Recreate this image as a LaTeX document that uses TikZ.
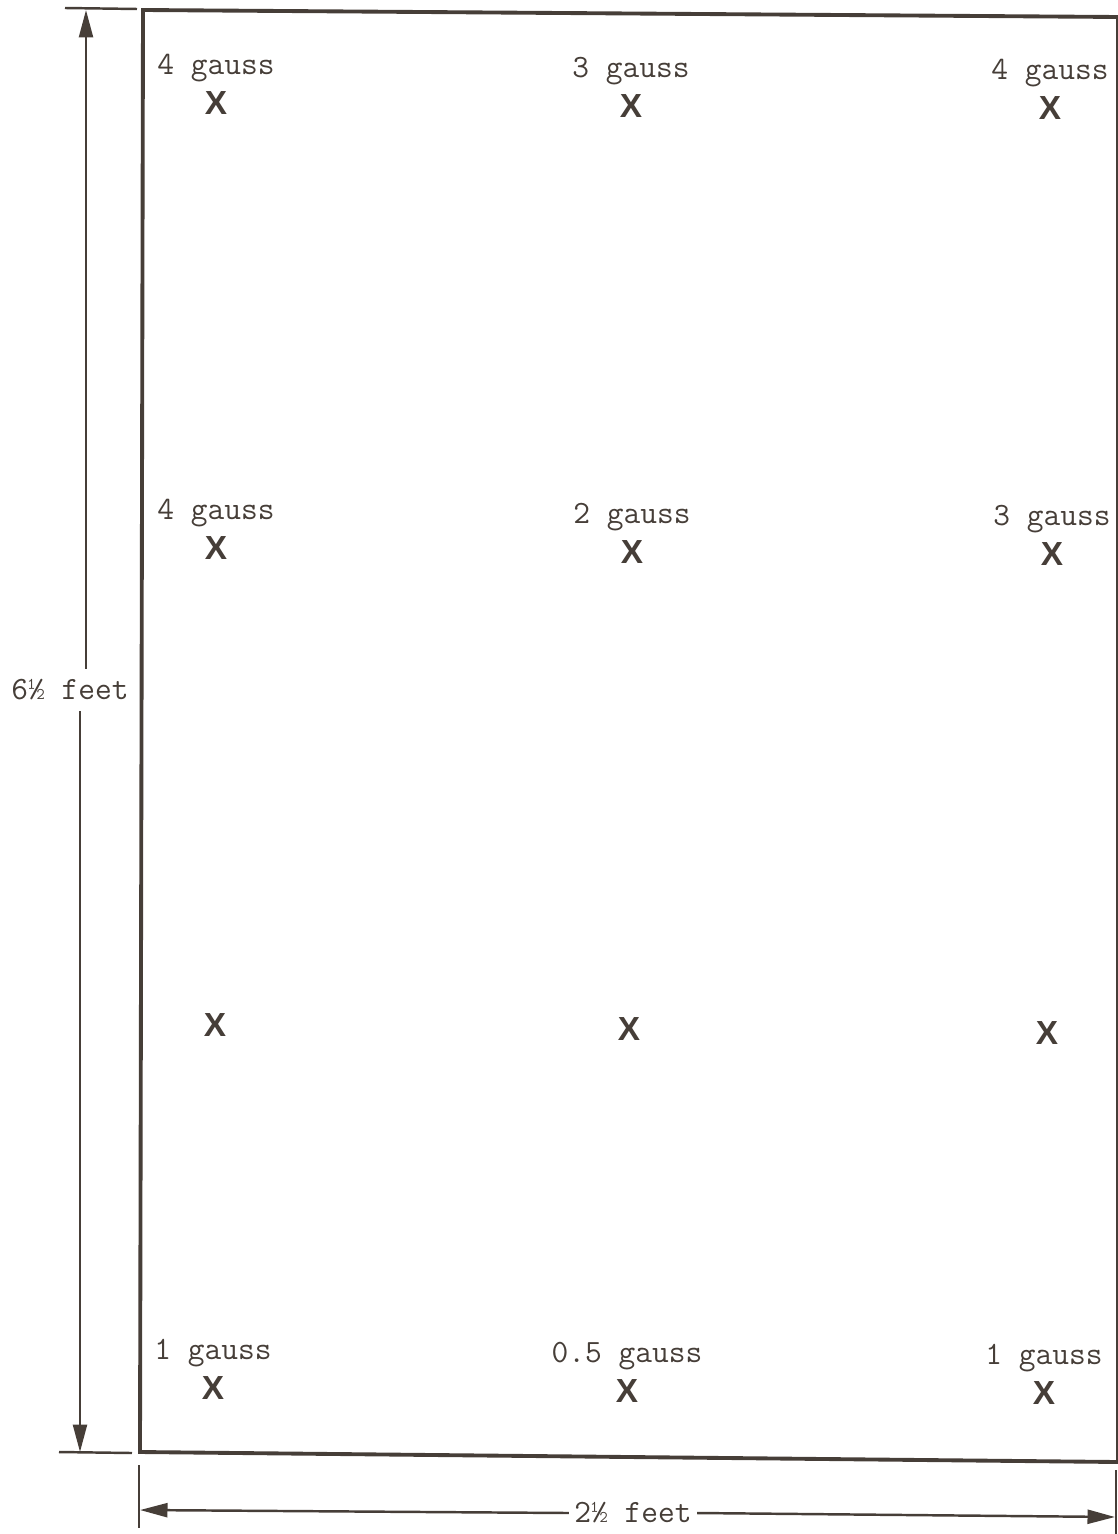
\documentclass[tikz,border=0pt]{standalone}
\usepackage{fontspec}
\setsansfont{Liberation Sans}
\usetikzlibrary{arrows.meta,positioning}
\definecolor{ink}{RGB}{70,62,56}
\begin{document}
\begin{tikzpicture}[x=0.02cm,y=-0.02cm,
	ink line/.style={draw=ink,line width=1.4pt},
	dim arrow/.style={ink line,-{Triangle[length=0.55cm,width=0.28cm]}},
	probe/.style={inner sep=0pt,text=ink,font=\sffamily\bfseries\fontsize{19}{19}\selectfont},
	reading/.style={inner sep=0pt,text=ink,font=\ttfamily\fontsize{18.5}{20}\selectfont},
	size/.style={inner xsep=3pt,inner ysep=6pt,text=ink,font=\ttfamily\fontsize{18.5}{20}\selectfont}]
	\useasboundingbox (0,0) rectangle (1117,1534);
	\draw[ink,line width=2.2pt] (143,10) -- (1118,17) -- (1118,1462) -- (140,1452) -- cycle; % enclosure
	% probe points and readings
	\foreach \n/\x/\y in {a1/216/103, a2/631/106, a3/1050/108, b1/216/548, b2/632/552, b3/1052/554, c1/215/1025, c2/629/1029, c3/1047/1033, d1/213/1388, d2/627/1391, d3/1044/1393}
		\node[probe] (\n) at (\x,\y) {X};
	\foreach \n/\t in {a1/4, a2/3, a3/4, b1/4, b2/2, b3/3, d1/1, d2/0.5, d3/1}
		\node[reading,above=0.18cm of \n] (r\n) {\t{} gauss};
	% height
	\coordinate (ht) at (86,10);
	\coordinate (hb) at (80,1452);
	\draw[ink line] (65,8) -- (137,9); % top extension
	\draw[ink line] (59,1452) -- (132,1453); % bottom extension
	\node[size] (h) at (70,690) {6½ feet};
	\draw[dim arrow] (h.north -| ht) -- (ht);
	\draw[dim arrow] (h.south -| hb) -- (hb);
	% width
	\coordinate (wl) at (140,1510);
	\coordinate (wr) at (1115,1517);
	\draw[ink line] (139,1465) -- (139,1528); % left extension
	\draw[ink line] (1116,1470) -- (1116,1534); % right extension
	\node[size] (w) at (633,1513) {2½ feet};
	\draw[dim arrow] (w.west) -- (wl);
	\draw[dim arrow] (w.east) -- (wr);
\end{tikzpicture}
\end{document}
